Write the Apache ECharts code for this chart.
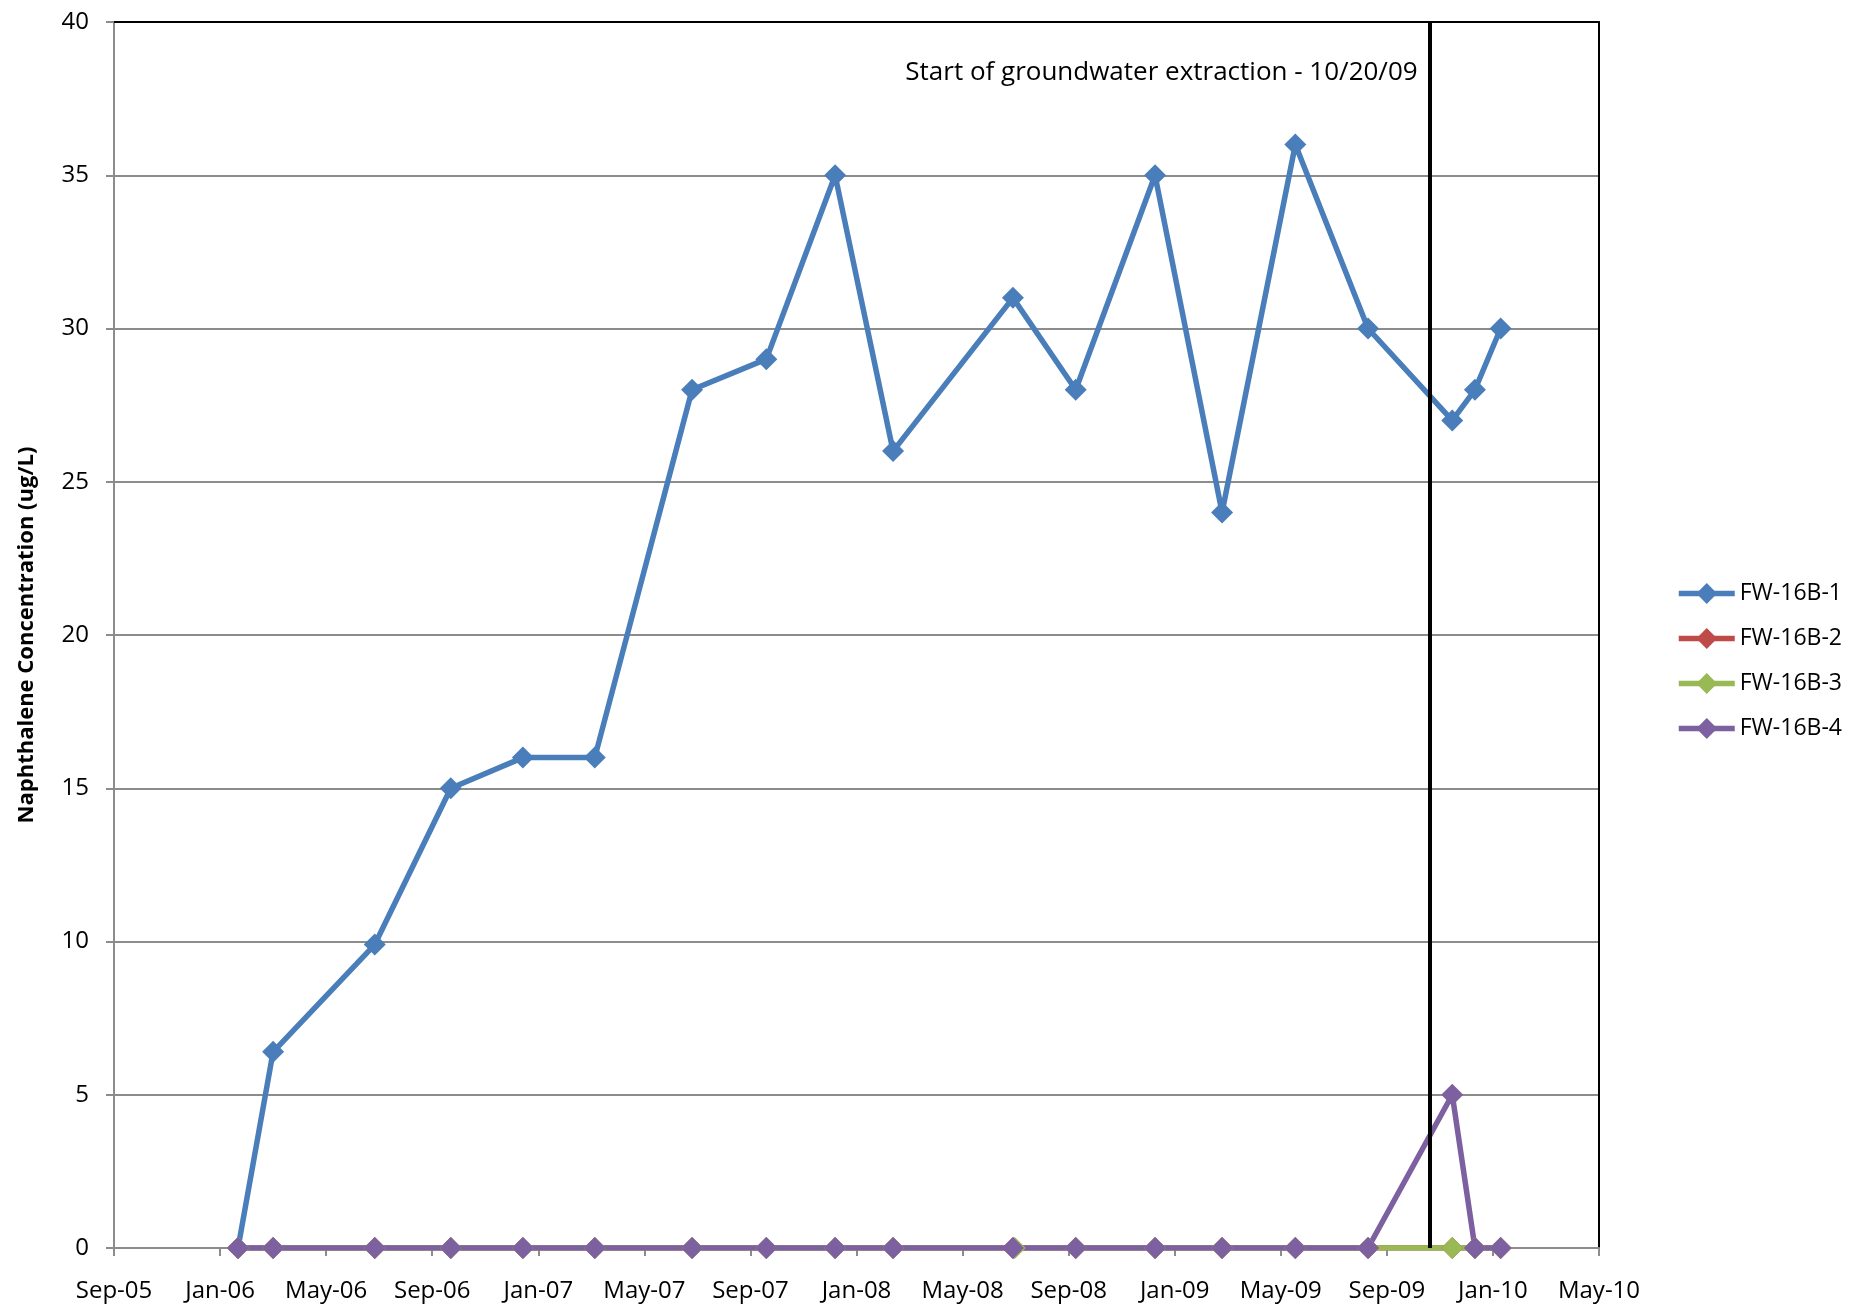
<!DOCTYPE html>
<html>
<head>
<meta charset="utf-8">
<title>Naphthalene Concentration - FW-16B</title>
<script src="https://cdn.jsdelivr.net/npm/echarts@6/dist/echarts.min.js"></script>
<style>
  html, body { margin: 0; padding: 0; background: #ffffff; }
  #chart { width: 1849px; height: 1307px; }
</style>
</head>
<body>
<div id="chart"></div>
<script>
// Month-start tick labels, every 4 months from Sep 2005 to May 2010
const tickLabels = ['Sep-05', 'Jan-06', 'May-06', 'Sep-06', 'Jan-07', 'May-07', 'Sep-07',
  'Jan-08', 'May-08', 'Sep-08', 'Jan-09', 'May-09', 'Sep-09', 'Jan-10', 'May-10'];

// Sampling dates
const sampleDates = ['2006-01-22', '2006-03-01', '2006-06-26', '2006-09-22', '2006-12-14',
  '2007-03-05', '2007-06-25', '2007-09-19', '2007-12-07', '2008-02-12', '2008-06-28',
  '2008-09-09', '2008-12-09', '2009-02-23', '2009-05-18', '2009-08-10', '2009-11-15',
  '2009-12-11', '2010-01-10'];
const fw3Dates = ['2006-01-22', '2006-03-01', '2006-06-26', '2006-09-22', '2006-12-14',
  '2007-03-05', '2007-06-25', '2007-09-19', '2007-12-07', '2008-02-12', '2008-06-30',
  '2008-09-09', '2008-12-09', '2009-02-23', '2009-05-18', '2009-08-10', '2009-11-15',
  '2009-12-11', '2010-01-10'];

// Naphthalene concentrations (ug/L)
const fw1 = [0, 6.4, 9.9, 15, 16, 16, 28, 29, 35, 26, 31, 28, 35, 24, 36, 30, 27, 28, 30];
const fw2 = [0, 0, 0, 0, 0, 0, 0, 0, 0, 0, 0, 0, 0, 0, 0, 0, 0, 0, 0];
const fw3 = [0, 0, 0, 0, 0, 0, 0, 0, 0, 0, 0, 0, 0, 0, 0, 0, 0, 0, 0];
const fw4 = [0, 0, 0, 0, 0, 0, 0, 0, 0, 0, 0, 0, 0, 0, 0, 0, 5, 0, 0];

const seriesNames = ['FW-16B-1', 'FW-16B-2', 'FW-16B-3', 'FW-16B-4'];
const seriesColors = ['#4A7EBB', '#BE4B48', '#98B954', '#7D60A0'];

const extractionStart = '2009-10-20';
const extractionLabel = 'Start of groundwater extraction - 10/20/09';

// Position on the axis in months elapsed since 1 Sep 2005
function monthsSinceStart(iso) {
  const [y, m, d] = iso.split('-').map(Number);
  const daysInMonth = new Date(Date.UTC(y, m, 0)).getUTCDate();
  return (y - 2005) * 12 + (m - 9) + (d - 1) / daysInMonth;
}

function pairs(dates, values) {
  return dates.map((d, i) => [monthsSinceStart(d), values[i]]);
}

const FONT = '"Open Sans", "Liberation Sans", sans-serif';
const GRID_GRAY = '#8C8C8C';
const TICK_SIZE = 24;

function lineSeries(idx, dates, values) {
  return {
    name: seriesNames[idx],
    type: 'line',
    data: pairs(dates, values),
    symbol: 'diamond',
    symbolSize: 22,
    showAllSymbol: true,
    color: seriesColors[idx],
    lineStyle: { width: 5.5, color: seriesColors[idx] },
    itemStyle: { color: seriesColors[idx] },
    emphasis: { disabled: true },
    animation: false
  };
}

const chart = echarts.init(document.getElementById('chart'), null, { renderer: 'canvas' });

const series = [
  lineSeries(0, sampleDates, fw1),
  lineSeries(1, sampleDates, fw2),
  lineSeries(2, fw3Dates, fw3),
  lineSeries(3, sampleDates, fw4)
];

// Extraction start marker line and its caption
series[3].markLine = {
  silent: true,
  symbol: ['none', 'none'],
  z: 20,
  animation: false,
  label: { show: false },
  lineStyle: { color: '#000000', width: 4, type: 'solid' },
  data: [{ xAxis: monthsSinceStart(extractionStart) }]
};
series[3].markPoint = {
  silent: true,
  symbol: 'circle',
  symbolSize: 0,
  animation: false,
  label: {
    show: true,
    position: 'left',
    distance: 12,
    color: '#000000',
    fontFamily: FONT,
    fontSize: 26,
    formatter: extractionLabel
  },
  data: [{ coord: [monthsSinceStart(extractionStart), 38.35] }]
};

const option = {
  backgroundColor: '#ffffff',
  animation: false,
  textStyle: { fontFamily: FONT },
  grid: { left: 114, top: 22, right: 250, bottom: 59, containLabel: false },
  legend: {
    data: seriesNames,
    orient: 'vertical',
    left: 1671,
    top: 577,
    itemWidth: 56,
    itemHeight: 26,
    itemGap: 22,
    lineStyle: { width: 5.5 },
    textStyle: { fontFamily: FONT, fontSize: 23, color: '#000000' },
    selectedMode: false
  },
  xAxis: [
    {
      type: 'value',
      min: 0,
      max: 56,
      interval: 4,
      axisLine: { show: true, onZero: false, lineStyle: { color: GRID_GRAY, width: 2 } },
      axisTick: { show: true, inside: false, length: 8, lineStyle: { color: GRID_GRAY, width: 2 } },
      axisLabel: {
        color: '#000000',
        fontFamily: FONT,
        fontSize: TICK_SIZE,
        margin: 31,
        formatter: v => tickLabels[Math.round(v / 4)] || ''
      },
      splitLine: { show: false }
    },
    {
      type: 'value',
      position: 'top',
      min: 0,
      max: 56,
      axisLine: { show: true, onZero: false, lineStyle: { color: '#000000', width: 2 } },
      axisTick: { show: false },
      axisLabel: { show: false },
      splitLine: { show: false }
    }
  ],
  yAxis: [
    {
      type: 'value',
      min: 0,
      max: 40,
      interval: 5,
      name: 'Naphthalene Concentration (ug/L)',
      nameLocation: 'middle',
      nameRotate: 90,
      nameGap: 76,
      nameTextStyle: { fontFamily: FONT, fontSize: 22, fontWeight: 'bold', color: '#000000' },
      axisLine: { show: true, onZero: false, lineStyle: { color: GRID_GRAY, width: 2 } },
      axisTick: { show: true, inside: false, length: 8, lineStyle: { color: GRID_GRAY, width: 2 } },
      axisLabel: { color: '#000000', fontFamily: FONT, fontSize: TICK_SIZE, margin: 25 },
      splitLine: { show: true, lineStyle: { color: GRID_GRAY, width: 2 } }
    },
    {
      type: 'value',
      position: 'right',
      min: 0,
      max: 40,
      axisLine: { show: true, onZero: false, lineStyle: { color: '#000000', width: 2 } },
      axisTick: { show: false },
      axisLabel: { show: false },
      splitLine: { show: false }
    }
  ],
  series: series
};

chart.setOption(option);
</script>
</body>
</html>
